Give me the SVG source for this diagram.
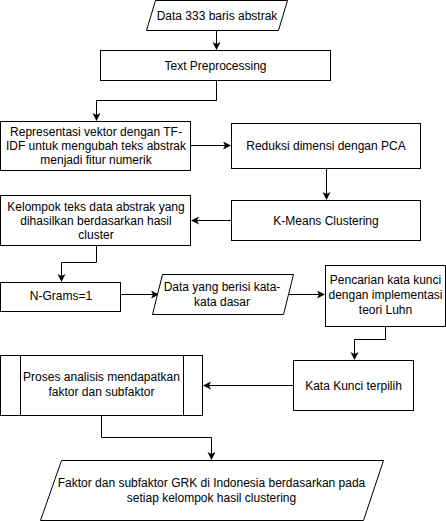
<svg xmlns="http://www.w3.org/2000/svg" width="446" height="521" viewBox="0 0 446 521">
<style>
.s{fill:#fff;stroke:#000;stroke-width:1}
.t{font-family:"Liberation Sans",Arial,sans-serif;font-size:12px;fill:#000;text-anchor:middle}
.c{fill:none;stroke:#000;stroke-width:1}
</style>
<defs>
<marker id="a" markerWidth="10" markerHeight="10" refX="7" refY="4" orient="auto" markerUnits="userSpaceOnUse">
<path d="M0,0 L8,4 L0,8 L2,4 Z" fill="#000"/>
</marker>
</defs>
<rect width="446" height="521" fill="#fff"/>
<g id="connectors">
<path class="c" d="M216.5,30 V49" marker-end="url(#a)"/>
<path class="c" d="M216.5,80 V100.5 H96.5 V120" marker-end="url(#a)"/>
<path class="c" d="M191,145.5 H230" marker-end="url(#a)"/>
<path class="c" d="M326.5,168 V199" marker-end="url(#a)"/>
<path class="c" d="M231,220.5 H192" marker-end="url(#a)"/>
<path class="c" d="M96.5,245 V262.5 H61.5 V281" marker-end="url(#a)"/>
<path class="c" d="M120,294.5 H158" marker-end="url(#a)"/>
<path class="c" d="M289,294.5 H324" marker-end="url(#a)"/>
<path class="c" d="M385.5,326 V339.5 H354.5 V359" marker-end="url(#a)"/>
<path class="c" d="M293,385.5 H204" marker-end="url(#a)"/>
<path class="c" d="M101.5,415 V437.5 H211.5 V459" marker-end="url(#a)"/>
</g>
<g id="n1">
<polygon class="s" points="155.5,0.5 287.5,0.5 278.5,30.5 146.5,30.5"/>
<text class="t" x="217" y="20">Data 333 baris abstrak</text>
</g>
<g id="n2">
<rect class="s" x="100.5" y="50.5" width="230" height="30"/>
<text class="t" x="215.5" y="69.5">Text Preprocessing</text>
</g>
<g id="n3">
<rect class="s" x="0.5" y="121.5" width="190" height="49"/>
<text class="t" x="96" y="136">Representasi vektor dengan TF-</text>
<text class="t" x="96" y="150">IDF untuk mengubah teks abstrak</text>
<text class="t" x="96" y="164">menjadi fitur numerik</text>
</g>
<g id="n4">
<rect class="s" x="231.5" y="123.5" width="189" height="45"/>
<text class="t" x="326" y="149.5">Reduksi dimensi dengan PCA</text>
</g>
<g id="n5">
<rect class="s" x="231.5" y="200.5" width="189" height="40"/>
<text class="t" x="326" y="224.5">K-Means Clustering</text>
</g>
<g id="n6">
<rect class="s" x="0.5" y="195.5" width="190" height="50"/>
<text class="t" x="96" y="211">Kelompok teks data abstrak yang</text>
<text class="t" x="96" y="225">dihasilkan berdasarkan hasil</text>
<text class="t" x="96" y="239">cluster</text>
</g>
<g id="n7">
<rect class="s" x="0.5" y="282.5" width="120" height="29"/>
<text class="t" x="61" y="300">N-Grams=1</text>
</g>
<g id="n8">
<polygon class="s" points="162.5,274.5 293.5,274.5 283.5,314.5 152.5,314.5"/>
<text class="t" x="222" y="291">Data yang berisi kata-</text>
<text class="t" x="222" y="306">kata dasar</text>
</g>
<g id="n9">
<rect class="s" x="325.5" y="265.5" width="120" height="61"/>
<text class="t" x="385.5" y="284">Pencarian kata kunci</text>
<text class="t" x="385.5" y="299">dengan implementasi</text>
<text class="t" x="385.5" y="314">teori Luhn</text>
</g>
<g id="n10">
<rect class="s" x="293.5" y="360.5" width="120" height="50"/>
<text class="t" x="353.5" y="389.5">Kata Kunci terpilih</text>
</g>
<g id="n11">
<rect class="s" x="0.5" y="355.5" width="202" height="60"/>
<line class="c" x1="20.5" y1="355.5" x2="20.5" y2="415.5"/>
<line class="c" x1="183.5" y1="355.5" x2="183.5" y2="415.5"/>
<text class="t" x="101.5" y="381">Proses analisis mendapatkan</text>
<text class="t" x="101.5" y="396">faktor dan subfaktor</text>
</g>
<g id="n12">
<polygon class="s" points="61.5,460.5 383.5,460.5 363.5,520.5 40.5,520.5"/>
<text class="t" x="211.5" y="487">Faktor dan subfaktor GRK di Indonesia berdasarkan pada</text>
<text class="t" x="211.5" y="502">setiap kelompok hasil clustering</text>
</g>
</svg>
